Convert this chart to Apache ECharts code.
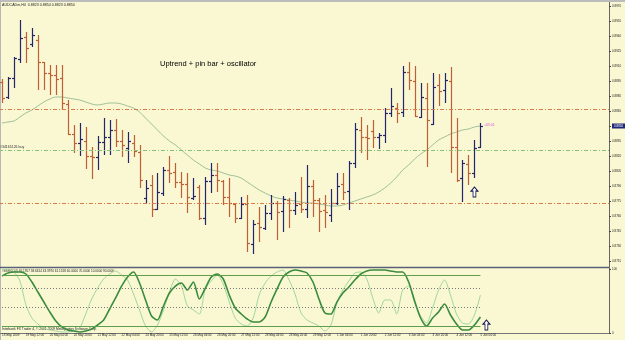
<!DOCTYPE html>
<html>
<head>
<meta charset="utf-8">
<title>AUDCADm,H4</title>
<script src="https://cdn.jsdelivr.net/npm/echarts@6/dist/echarts.min.js"></script>
<style>
html,body{margin:0;padding:0;background:#f9f8d3;}
#main{width:625px;height:340px;}
</style>
</head>
<body>
<div id="main"></div>
<script>
//价格数据 (H4 bars)
var barOpen = [0.8894,0.8879,0.8898,0.8917,0.8939,0.8932,0.8936,0.8914,0.8903,0.8901,
    0.8898,0.8872,0.8842,0.8833,0.8835,0.8820,0.8819,0.8834,0.8839,0.8846,
    0.8835,0.8828,0.8833,0.8824,0.8778,0.8791,0.8767,0.8783,0.8806,0.8804,
    0.8794,0.8792,0.8778,0.8789,0.8758,0.8795,0.8801,0.8795,0.8779,0.8772,
    0.8758,0.8772,0.8732,0.8753,0.8748,0.8763,0.8773,0.8765,0.8776,0.8766,
    0.8772,0.8767,0.8790,0.8776,0.8766,0.8761,0.8773,0.8792,0.8785,0.8813,
    0.8846,0.8839,0.8845,0.8839,0.8841,0.8863,0.8868,0.8864,0.8904,0.8895,
    0.8859,0.8878,0.8852,0.8891,0.8886,0.8895,0.8829,0.8798,0.8812,0.8803,0.8829];
var barHigh = [0.8897,0.8899,0.8919,0.8956,0.8944,0.8948,0.8941,0.8914,0.8911,0.8911,
    0.8911,0.8876,0.8851,0.8853,0.8849,0.8829,0.8840,0.8858,0.8856,0.8857,
    0.8846,0.8844,0.8841,0.8831,0.8796,0.8801,0.8803,0.8809,0.8820,0.8813,
    0.8804,0.8803,0.8798,0.8791,0.8799,0.8813,0.8813,0.8796,0.8798,0.8773,
    0.8779,0.8781,0.8756,0.8769,0.8771,0.8781,0.8775,0.8780,0.8778,0.8784,
    0.8799,0.8811,0.8796,0.8778,0.8781,0.8787,0.8803,0.8803,0.8815,0.8853,
    0.8859,0.8851,0.8856,0.8843,0.8868,0.8888,0.8873,0.8910,0.8914,0.8910,
    0.8893,0.8893,0.8903,0.8902,0.8903,0.8909,0.8858,0.8816,0.8821,0.8836,0.8853];
var barLow = [0.8873,0.8877,0.8888,0.8913,0.8913,0.8929,0.8886,0.8886,0.8881,0.8881,
    0.8866,0.8841,0.8823,0.8820,0.8807,0.8797,0.8806,0.8821,0.8821,0.8829,
    0.8819,0.8813,0.8819,0.8788,0.8773,0.8759,0.8766,0.8780,0.8793,0.8788,
    0.8778,0.8763,0.8776,0.8756,0.8751,0.8783,0.8784,0.8771,0.8759,0.8753,
    0.8757,0.8724,0.8722,0.8734,0.8746,0.8756,0.8736,0.8744,0.8748,0.8761,
    0.8763,0.8758,0.8759,0.8744,0.8748,0.8754,0.8771,0.8776,0.8766,0.8808,
    0.8823,0.8816,0.8828,0.8827,0.8833,0.8859,0.8853,0.8859,0.8886,0.8859,
    0.8858,0.8809,0.8851,0.8870,0.8873,0.8803,0.8794,0.8774,0.8791,0.8798,0.8828];
var barClose = [0.8878,0.8898,0.8918,0.8938,0.8928,0.8941,0.8914,0.8903,0.8901,0.8897,
    0.8873,0.8842,0.8833,0.8837,0.8820,0.8819,0.8834,0.8839,0.8846,0.8835,
    0.8831,0.8835,0.8825,0.8796,0.8788,0.8767,0.8784,0.8806,0.8803,0.8794,
    0.8792,0.8779,0.8780,0.8758,0.8795,0.8801,0.8796,0.8779,0.8773,0.8758,
    0.8772,0.8733,0.8752,0.8749,0.8763,0.8773,0.8764,0.8777,0.8766,0.8771,
    0.8767,0.8790,0.8776,0.8765,0.8764,0.8773,0.8790,0.8784,0.8813,0.8847,
    0.8839,0.8838,0.8839,0.8841,0.8863,0.8870,0.8863,0.8904,0.8896,0.8860,
    0.8879,0.8856,0.8889,0.8885,0.8896,0.8829,0.8796,0.8813,0.8803,0.8828,0.8850];
//均线
var maLine = [0.8853,0.8854,0.8855,0.8859,0.8863,0.8866,0.8870,0.8874,0.8877,0.8879,
    0.8879,0.8878,0.8877,0.8876,0.8874,0.8872,0.8871,0.8872,0.8873,0.8873,
    0.8872,0.8870,0.8868,0.8864,0.8858,0.8852,0.8846,0.8840,0.8835,0.8831,
    0.8826,0.8821,0.8816,0.8812,0.8808,0.8806,0.8805,0.8803,0.8801,0.8800,
    0.8798,0.8794,0.8790,0.8786,0.8783,0.8780,0.8778,0.8777,0.8776,0.8775,
    0.8774,0.8773,0.8773,0.8772,0.8771,0.8770,0.8770,0.8771,0.8773,0.8775,
    0.8777,0.8779,0.8781,0.8784,0.8788,0.8793,0.8799,0.8806,0.8811,0.8817,
    0.8822,0.8826,0.8831,0.8836,0.8839,0.8842,0.8844,0.8846,0.8847,0.8849,0.8850];
//振荡指标
var oscMain = [89.1,93.8,95.3,95.3,92.2,79.7,64.1,48.4,32.8,18.8,
    9.4,4.7,3.1,1.6,3.1,6.3,12.5,20.3,37.5,54.7,
    73.4,87.5,95.3,78.1,51.6,26.6,20.3,42.2,62.5,73.4,
    78.1,67.2,79.7,53.1,70.3,87.5,92.2,84.4,59.4,39.1,
    29.7,21.9,17.2,17.2,25.0,48.4,68.8,87.5,95.3,98.4,
    96.9,93.8,79.7,53.1,31.3,29.7,48.4,62.5,71.9,82.8,
    92.2,96.9,98.4,98.4,98.4,96.9,95.3,95.3,79.7,50.0,
    23.4,10.9,23.4,32.8,45.3,28.1,14.1,4.7,4.7,12.5,25.0];
var oscSignal = [98.4,100,95.3,81.3,43.8,23.4,14.1,7.8,4.7,3.1,
    1.6,1.6,3.1,7.8,29.7,53.1,70.3,84.4,92.2,96.9,
    90.6,82.8,60.9,35.9,10.9,1.6,12.5,35.9,64.1,84.4,
    73.4,42.2,35.9,29.7,68.8,81.3,90.6,76.6,48.4,23.4,
    14.1,10.9,23.4,59.4,78.1,89.1,95.3,98.4,82.8,60.9,
    31.3,20.3,15.6,10.9,3.1,12.5,46.9,67.2,81.3,93.8,
    95.3,84.4,54.7,31.3,51.6,51.6,29.7,67.2,73.4,46.9,
    26.6,15.6,39.1,67.2,82.8,59.4,29.7,15.6,14.1,28.1,59.4];
//时间轴标签 (每4根K线)
var tickLabels = ["18 May 2009","19 May 12:00","20 May 04:00","20 May 20:00","21 May 12:00",
    "22 May 04:00","24 May 20:00","25 May 12:00","26 May 04:00","26 May 20:00",
    "27 May 12:00","28 May 04:00","28 May 20:00","29 May 12:00","1 Jun 04:00",
    "1 Jun 20:00","2 Jun 12:00","3 Jun 04:00","3 Jun 20:00","4 Jun 12:00","5 Jun 04:00"];
//水平线
var resistLevel = 0.8867;
var buyLevel = 0.8826;
var supportLevel = 0.8773;
var oscSolidLevels = [90, 10];
var oscDotLevels = [70, 40];
var arrowPrice = 0.8784;
var arrowOsc = 12.5;

var upColor = '#25256c', downColor = '#bf6034';
var tinyFont = 'Liberation Sans';
var slotCount = 102; //右侧留白
var lastIdx = barClose.length - 1;
var lastClose = barClose[lastIdx];

var categories = [];
for (var i = 0; i < slotCount; i++) {
    categories.push(String(i));
}
var ohlcData = barOpen.map(function (o, i) {
    return [i, o, barClose[i], barLow[i], barHigh[i]];
});

function showTick(index) {
    return index % 4 === 0 && index <= lastIdx;
}

//美国线
function renderBar(params, api) {
    var idx = api.value(0);
    var hi = api.coord([idx, api.value(4)]);
    var lo = api.coord([idx, api.value(3)]);
    var op = api.coord([idx, api.value(1)]);
    var cl = api.coord([idx, api.value(2)]);
    var color = api.value(2) >= api.value(1) ? upColor : downColor;
    var x = Math.round(hi[0]) + 0.5;
    var st = {stroke: color, lineWidth: 1.2};
    return {
        type: 'group',
        children: [
            {type: 'line', shape: {x1: x, y1: hi[1], x2: x, y2: lo[1]}, style: st},
            {type: 'line', shape: {x1: x - 2.5, y1: Math.round(op[1]) + 0.5, x2: x, y2: Math.round(op[1]) + 0.5}, style: st},
            {type: 'line', shape: {x1: x, y1: Math.round(cl[1]) + 0.5, x2: x + 2.5, y2: Math.round(cl[1]) + 0.5}, style: st}
        ]
    };
}

var dashDot = [4, 2, 1, 2];
var arrowPath = 'path://M5,0L10,5L7,5L7,12L3,12L3,5L0,5Z';

var oscLevelLines = [];
oscSolidLevels.forEach(function (v) {
    oscLevelLines.push([{coord: [0, v], lineStyle: {color: '#5e9e4c', width: 1, type: 'solid'}}, {coord: [lastIdx, v]}]);
});
oscDotLevels.forEach(function (v) {
    oscLevelLines.push([{coord: [0, v], lineStyle: {color: '#777', width: 1, type: [1, 2]}}, {coord: [lastIdx, v]}]);
});

var myChart = echarts.init(document.getElementById('main'));
var option = {
    animation: false,
    backgroundColor: '#f9f8d3',
    title: {
        text: 'Uptrend + pin bar + oscillator',
        left: 155, top: 55,
        textStyle: {fontSize: 7.5, fontWeight: 'normal', color: '#000', fontFamily: tinyFont}
    },
    grid: [
        {left: -1, right: 16, top: 3, bottom: 79, outerBoundsMode: 'none'},
        {left: -1, right: 16, top: 269, bottom: 7, outerBoundsMode: 'none'}
    ],
    xAxis: [
        {type: 'category', gridIndex: 0, data: categories, show: false, boundaryGap: true},
        {
            type: 'category', gridIndex: 1, data: categories, boundaryGap: true,
            axisLine: {lineStyle: {color: '#777', width: 1}},
            axisTick: {interval: showTick, alignWithLabel: true, length: 2, lineStyle: {color: '#444'}},
            axisLabel: {
                interval: showTick, align: 'left', margin: 1,
                fontSize: 3, color: '#222', fontFamily: tinyFont,
                formatter: function (value, index) { return tickLabels[index / 4] || ''; }
            },
            splitLine: {show: false}
        }
    ],
    yAxis: [
        {
            type: 'value', gridIndex: 0, position: 'right',
            min: 0.8715, max: 0.8973, interval: 0.0015,
            axisLine: {show: true, lineStyle: {color: '#666'}},
            axisTick: {show: true, length: 2, lineStyle: {color: '#444'}},
            axisLabel: {
                margin: 3, fontSize: 3, color: '#222', fontFamily: tinyFont, showMaxLabel: false,
                formatter: function (v) { return v.toFixed(4); }
            },
            splitLine: {show: false}
        },
        {
            type: 'value', gridIndex: 1, position: 'right',
            min: 0, max: 100, interval: 100,
            axisLine: {show: true, lineStyle: {color: '#666'}},
            axisTick: {show: true, length: 2, lineStyle: {color: '#444'}},
            axisLabel: {margin: 3, fontSize: 3, color: '#222', fontFamily: tinyFont},
            splitLine: {show: false}
        }
    ],
    graphic: [
        {type: 'rect', left: 0, top: 0, shape: {width: 625, height: 2}, style: {fill: '#bcbcbc'}, silent: true},
        {type: 'rect', left: 0, top: 0, shape: {width: 1, height: 340}, style: {fill: '#b8b8b8'}, silent: true},
        {type: 'line', shape: {x1: 0, y1: 267.5, x2: 609, y2: 267.5}, style: {stroke: '#5a6078', lineWidth: 1.6}, silent: true},
        {type: 'line', shape: {x1: 609.5, y1: 2, x2: 609.5, y2: 333}, style: {stroke: '#666', lineWidth: 1}, silent: true},
        {type: 'text', left: 2, top: 3, style: {text: 'AUDCADm,H4  0.8823 0.8854 0.8823 0.8850', fontSize: 3.6, fill: '#222', fontFamily: tinyFont}, silent: true},
        {type: 'text', left: 2, top: 270, style: {text: '#SSRC(14) 46.1957 58.6614 43.3970 61.1318 40.0000 70.0000 10.0000 90.0000', fontSize: 3.1, fill: '#222', fontFamily: tinyFont}, silent: true},
        {type: 'text', left: 2, top: 328, style: {text: 'Interbank FX Trader 4, \u00a9 2001-2009 MetaQuotes Software Corp.', fontSize: 3.3, fill: '#222', fontFamily: tinyFont}, silent: true}
    ],
    series: [
        {
            name: 'MA', type: 'line', xAxisIndex: 0, yAxisIndex: 0,
            data: maLine, showSymbol: false, smooth: 0.3,
            lineStyle: {color: '#9fbf98', width: 1},
            z: 1,
            markLine: {
                silent: true, symbol: 'none', animation: false, precision: 4,
                label: {show: false},
                data: [
                    {yAxis: resistLevel, lineStyle: {color: '#dc7a4c', width: 1, type: dashDot}},
                    {
                        yAxis: buyLevel, lineStyle: {color: '#86c474', width: 1, type: dashDot},
                        label: {show: true, position: 'insideStartTop', distance: 1, formatter: '#34165126 buy', fontSize: 3.5, color: '#333', fontFamily: tinyFont}
                    },
                    {yAxis: supportLevel, lineStyle: {color: '#dc7a4c', width: 1, type: dashDot}},
                    {
                        yAxis: lastClose, lineStyle: {color: 'transparent', width: 0},
                        label: {show: true, position: 'end', distance: 3, formatter: lastClose.toFixed(4), fontSize: 3, color: '#fff', backgroundColor: '#20287a', padding: [1, 2], fontFamily: tinyFont}
                    }
                ]
            },
            markPoint: {
                silent: true, animation: false,
                data: [
                    {coord: [lastIdx - 1, arrowPrice], symbol: arrowPath, symbolSize: [7, 10], itemStyle: {color: '#fff', borderColor: '#1a1a50', borderWidth: 1}, label: {show: false}},
                    {
                        coord: [lastIdx, lastClose + 0.0001], symbol: 'circle', symbolSize: 1, itemStyle: {color: 'transparent'},
                        label: {show: true, position: 'right', distance: 3, formatter: '+65.01', fontSize: 3.5, color: '#e055d8', fontFamily: tinyFont}
                    }
                ]
            }
        },
        {
            name: 'bars', type: 'custom', xAxisIndex: 0, yAxisIndex: 0,
            data: ohlcData, renderItem: renderBar, z: 3,
            encode: {x: 0, y: [1, 2, 3, 4]}
        },
        {
            name: 'osc', type: 'line', xAxisIndex: 1, yAxisIndex: 1,
            data: oscMain, showSymbol: false, smooth: 0.25,
            lineStyle: {color: '#3a8c3c', width: 1.6},
            z: 3,
            markLine: {silent: true, symbol: 'none', animation: false, label: {show: false}, data: oscLevelLines},
            markPoint: {
                silent: true, animation: false,
                data: [{coord: [lastIdx + 1, arrowOsc], symbol: arrowPath, symbolSize: [7, 10], itemStyle: {color: '#fff', borderColor: '#1a1a50', borderWidth: 1}, label: {show: false}}]
            }
        },
        {
            name: 'signal', type: 'line', xAxisIndex: 1, yAxisIndex: 1,
            data: oscSignal, showSymbol: false, smooth: 0.25,
            lineStyle: {color: '#a2d49c', width: 1},
            z: 2
        }
    ]
};
myChart.setOption(option);
</script>
</body>
</html>
